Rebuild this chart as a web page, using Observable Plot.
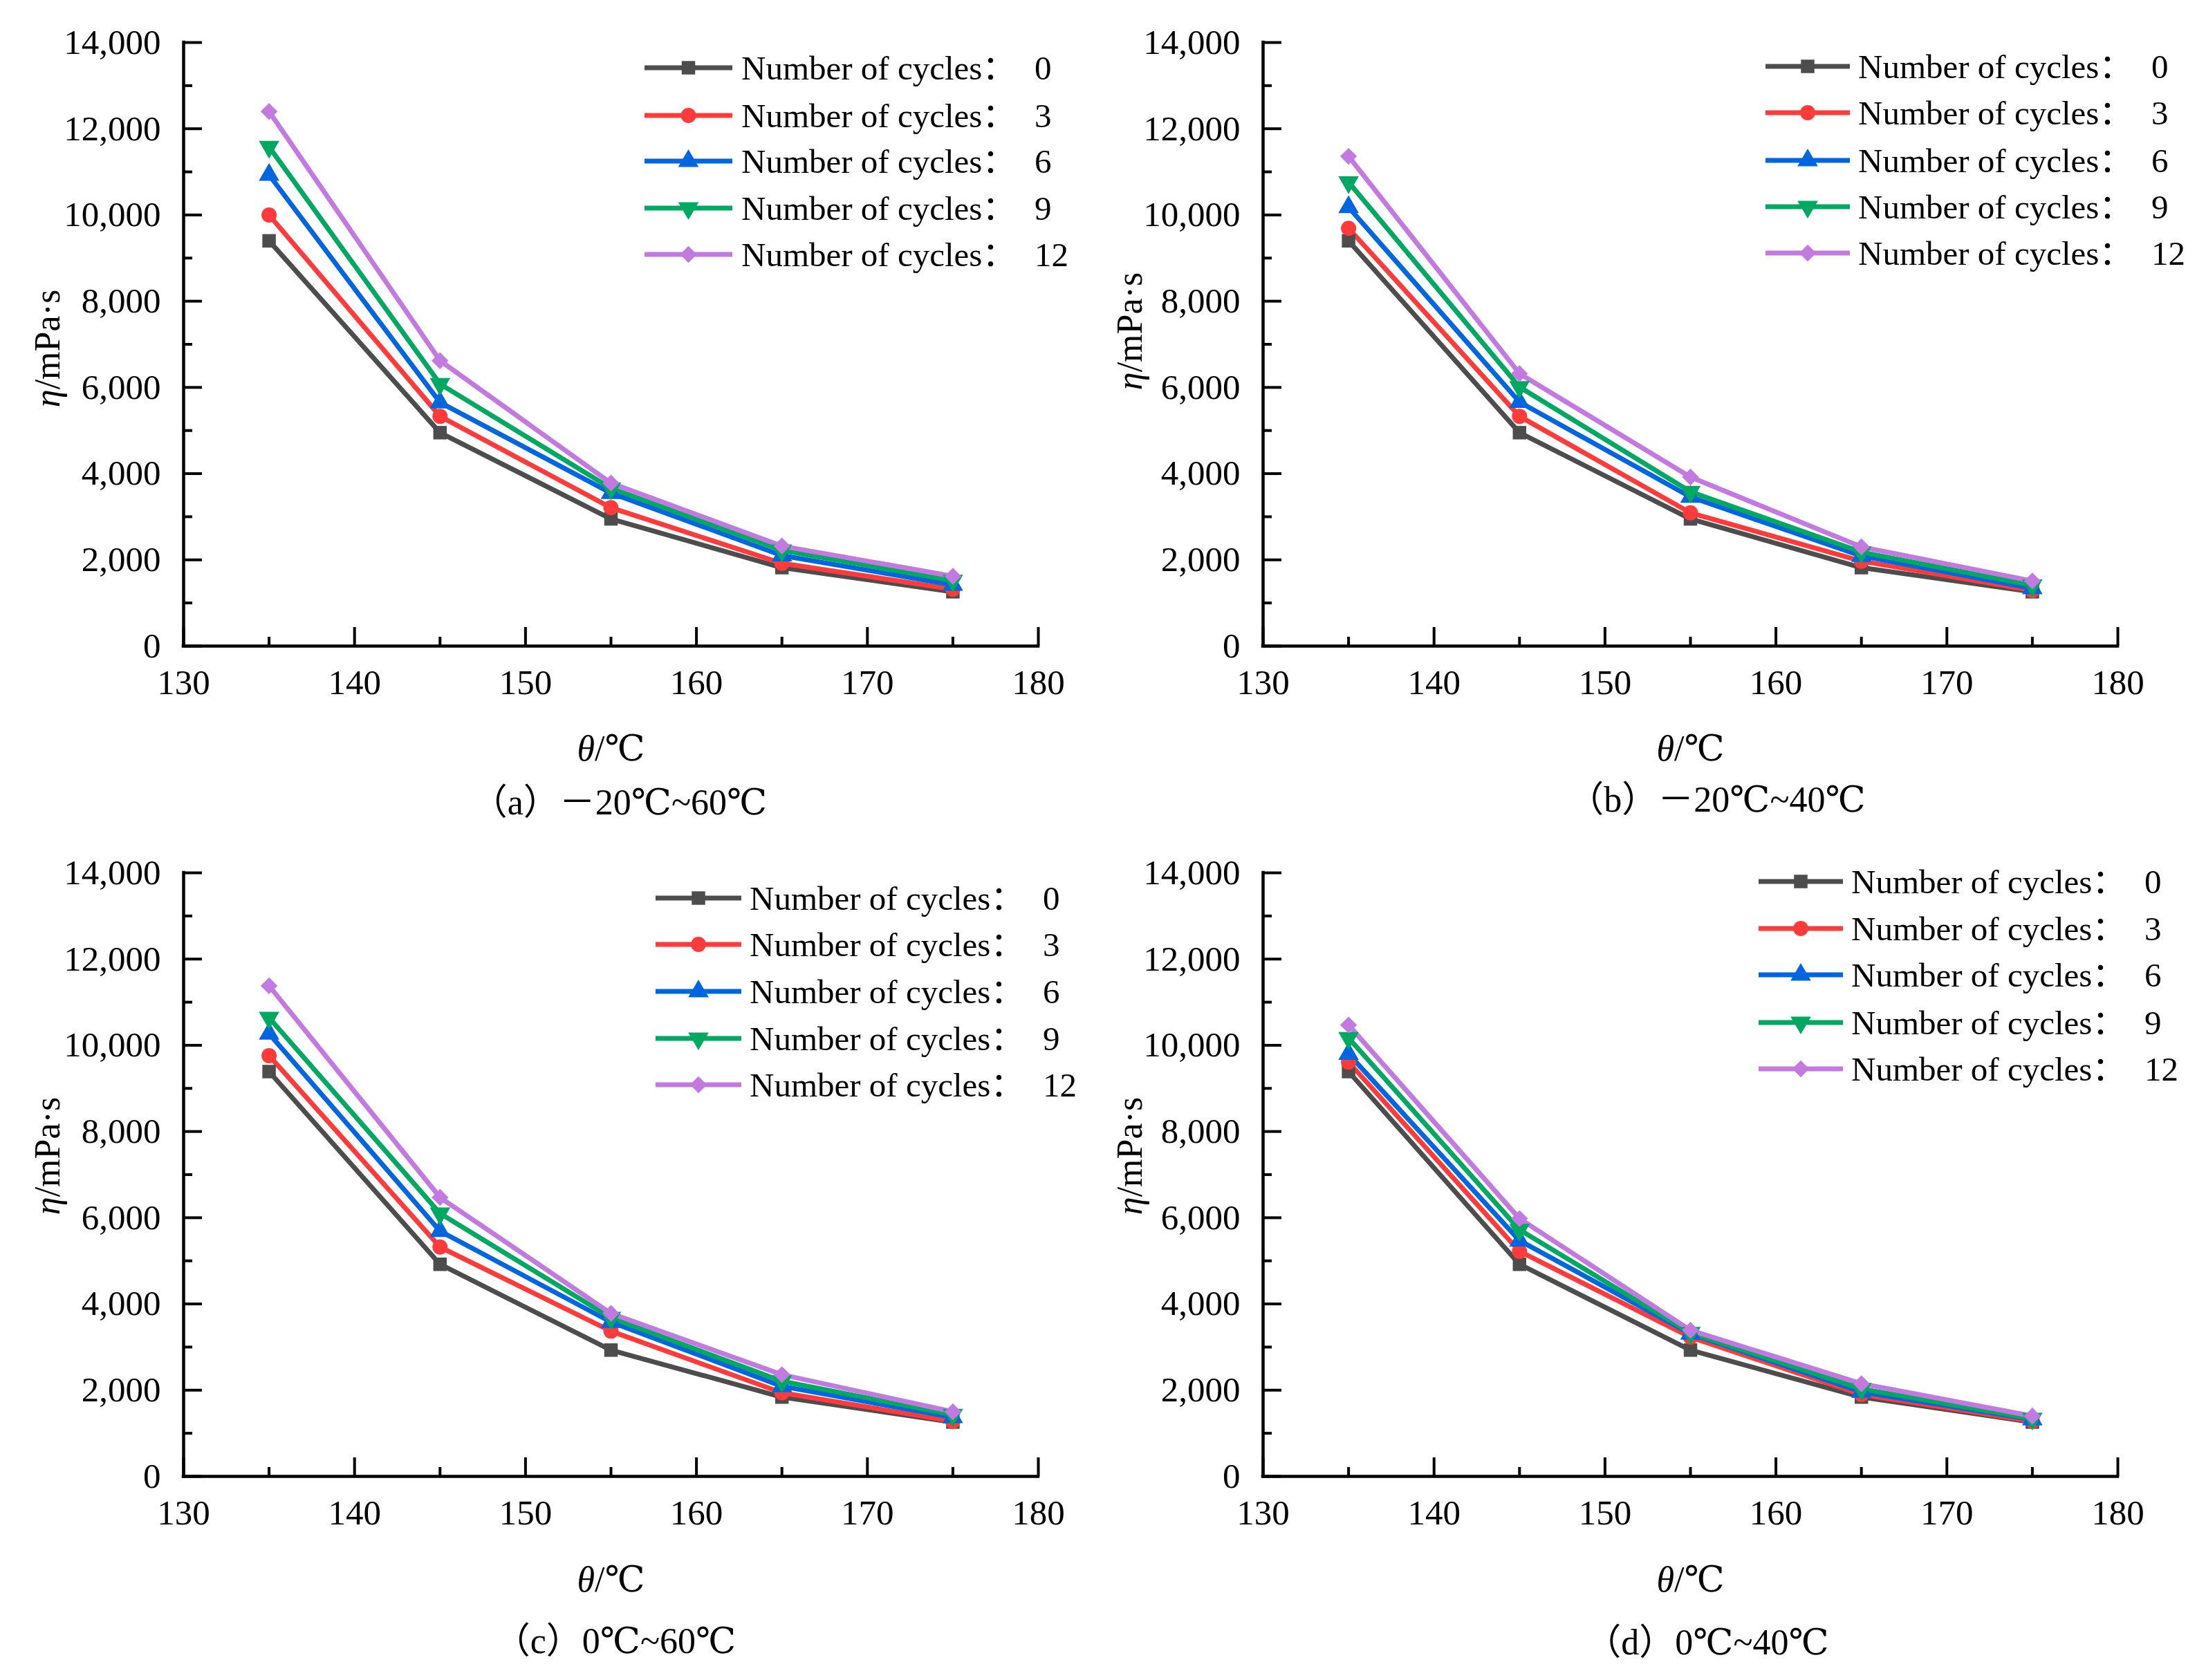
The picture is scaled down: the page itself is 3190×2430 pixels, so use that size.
<!DOCTYPE html>
<html><head><meta charset="utf-8">
<script src="https://cdn.jsdelivr.net/npm/d3@7"></script>
<script src="https://cdn.jsdelivr.net/npm/@observablehq/plot@0.6"></script>
<style>
html,body{margin:0;padding:0;background:#fff;}
#root{position:relative;width:3190px;height:2430px;overflow:hidden;background:#fff;}
.panel{position:absolute;}
.panel svg{overflow:visible;display:block;}
</style></head><body><div id="root"></div>
<script>
// ---- data ----
const temps = [135, 145, 155, 165, 175];
const cycles = [0, 3, 6, 9, 12];
const xMajor = [130, 140, 150, 160, 170, 180];
const xMinor = [135, 145, 155, 165, 175];
const yMajor = [0, 2000, 4000, 6000, 8000, 10000, 12000, 14000];
const yMinor = [1000, 3000, 5000, 7000, 9000, 11000, 13000];

// panel (a) −20℃~60℃
const a0  = [9400, 4950, 2950, 1820, 1260];
const a3  = [10000, 5330, 3210, 1920, 1320];
const a6  = [10930, 5650, 3550, 2100, 1420];
const a9  = [11580, 6080, 3660, 2220, 1520];
const a12 = [12400, 6620, 3780, 2320, 1620];
// panel (b) −20℃~40℃
const b0  = [9400, 4950, 2950, 1820, 1260];
const b3  = [9690, 5330, 3090, 1970, 1290];
const b6  = [10180, 5660, 3460, 2090, 1340];
const b9  = [10760, 6010, 3580, 2180, 1410];
const b12 = [11360, 6320, 3920, 2300, 1510];
// panel (c) 0℃~60℃
const c0  = [9390, 4920, 2930, 1840, 1260];
const c3  = [9760, 5320, 3370, 1940, 1280];
const c6  = [10270, 5690, 3580, 2090, 1370];
const c9  = [10640, 6100, 3680, 2210, 1430];
const c12 = [11380, 6470, 3780, 2360, 1500];
// panel (d) 0℃~40℃
const d0  = [9390, 4920, 2930, 1840, 1260];
const d3_ = [9610, 5220, 3230, 1900, 1280];
const d6  = [9800, 5470, 3310, 1960, 1320];
const d9  = [10170, 5720, 3330, 2030, 1340];
const d12 = [10470, 5980, 3390, 2150, 1400];

const captions = ["（a）－20℃~60℃", "（b）－20℃~40℃", "（c）0℃~60℃", "（d）0℃~40℃"];
const legendPrefix = "Number of cycles：";
const xLabel = "θ/℃";
const yLabel = "η/mPa·s";

// ---- styles ----
const colors = ["#4d4d4d", "#ff3b3b", "#0066e0", "#00a862", "#c27ae0"];
const triangleDown = {
  draw(context, size) {
    const y = -Math.sqrt(size / (Math.sqrt(3) * 3));
    const s3 = Math.sqrt(3);
    context.moveTo(0, -y * 2);
    context.lineTo(-s3 * y, y);
    context.lineTo(s3 * y, y);
    context.closePath();
  }
};
const symbols = [d3.symbolSquare, d3.symbolCircle, d3.symbolTriangle, triangleDown, d3.symbolDiamond2];
const SERIF = "'Liberation Serif','Times New Roman','DejaVu Serif','Noto Sans CJK SC',serif";

const FL = 265, FT = 61, FW = 1236, FH = 873;
// yl: desired centre of the rotated y title, in panel pixel coordinates
const panels = [
  {series: [a0, a3, a6, a9, a12], caption: captions[0], left: 0, top: 0, width: 1561, height: 1201,
   leg: {l0: 667, l1: 794, tx: 807, rows: [37, 106, 172, 240, 307]}, yl: {x: 68, y: 504}, cap: {dx: 630 - FW/2, dy: 243}, xl: {dy: 165}},
  {series: [b0, b3, b6, b9, b12], caption: captions[1], left: 1561, top: 0, width: 1629, height: 1201,
   leg: {l0: 727, l1: 849, tx: 861, rows: [35, 102, 171, 238, 305]}, yl: {x: 72, y: 479}, cap: {dx: 656 - FW/2, dy: 239}, xl: {dy: 165}},
  {series: [c0, c3, c6, c9, c12], caption: captions[2], left: 0, top: 1201, width: 1561, height: 1229,
   leg: {l0: 683, l1: 807, tx: 819, rows: [37, 104, 172, 240, 307]}, yl: {x: 68, y: 471}, cap: {dx: 624 - FW/2, dy: 255}, xl: {dy: 166}},
  {series: [d0, d3_, d6, d9, d12], caption: captions[3], left: 1561, top: 1201, width: 1629, height: 1229,
   leg: {l0: 717, l1: 839, tx: 851, rows: [13, 81, 148, 217, 284]}, yl: {x: 72, y: 471}, cap: {dx: 642 - FW/2, dy: 257}, xl: {dy: 166}}
];

const root = document.getElementById("root");
const R = 11;
const LW = 7;

for (const p of panels) {
  const rows = [];
  p.series.forEach((vals, i) => vals.forEach((v, j) => rows.push({cycle: cycles[i], temp: temps[j], value: v})));
  const axisCommon = {label: null, stroke: "#000", strokeWidth: 4};
  const svg = Plot.plot({
    width: p.width, height: p.height,
    marginLeft: FL, marginTop: FT,
    marginRight: p.width - FL - FW, marginBottom: p.height - FT - FH,
    style: {fontFamily: SERIF, fontSize: "51px", color: "#000", background: "transparent", overflow: "visible"},
    x: {domain: [130, 180]},
    y: {domain: [0, 14000]},
    color: {type: "ordinal", domain: cycles, range: colors},
    symbol: {domain: cycles, range: symbols},
    marks: [
      Plot.axisX(xMajor, {...axisCommon, tickSize: 0, tickPadding: 33, fill: "#000", fontSize: 51, fontFamily: SERIF}),
      Plot.axisX(xMajor, {...axisCommon, tickSize: -27, fill: "none"}),
      Plot.axisX(xMinor, {...axisCommon, tickSize: -13, fill: "none"}),
      Plot.axisY(yMajor, {...axisCommon, tickSize: 0, tickPadding: 33, fill: "#000", tickFormat: d3.format(","), fontSize: 51, fontFamily: SERIF}),
      Plot.axisY(yMajor, {...axisCommon, tickSize: -27, fill: "none"}),
      Plot.axisY(yMinor, {...axisCommon, tickSize: -13, fill: "none"}),
      Plot.ruleX([130], {y1: 0, y2: 14000, stroke: "#000", strokeWidth: 4.5, strokeLinecap: "square"}),
      Plot.ruleY([0], {x1: 130, x2: 180, stroke: "#000", strokeWidth: 4.5, strokeLinecap: "square"}),
      Plot.line(rows, {x: "temp", y: "value", z: "cycle", stroke: "cycle", strokeWidth: LW, strokeLinejoin: "round"}),
      Plot.dot(rows, {x: "temp", y: "value", fill: "cycle", symbol: "cycle", r: R, stroke: "none"}),
      Plot.text([xLabel], {text: d => d, frameAnchor: "bottom", dy: p.xl.dy, fontSize: 52, fontFamily: SERIF, fill: "#000"}),
      Plot.text([p.caption], {text: d => d, frameAnchor: "bottom", dx: p.cap.dx, dy: p.cap.dy, fontSize: 52, fontFamily: SERIF, fill: "#000"})
    ]
  });

  // italic θ in x label
  d3.select(svg).selectAll("text").each(function() {
    const t = this.textContent;
    if (t === xLabel) {
      const sel = d3.select(this);
      sel.text(null);
      sel.append("tspan").attr("font-style", "italic").text(t[0]);
      sel.append("tspan").text(t.slice(1));
    }
  });

  // y-axis title (rotated, italic η) – placed directly in panel pixel space
  const yt = d3.select(svg).append("text")
    .attr("transform", `translate(${p.yl.x},${p.yl.y}) rotate(-90)`)
    .attr("text-anchor", "middle").attr("dy", "0.34em")
    .attr("font-family", SERIF).attr("font-size", 52).attr("fill", "#000");
  yt.append("tspan").attr("font-style", "italic").text(yLabel[0]);
  yt.append("tspan").text(yLabel.slice(1));

  // legend
  const g = d3.select(svg).append("g").attr("transform", `translate(${FL},${FT})`).attr("text-anchor", "start");
  cycles.forEach((c, i) => {
    const y = p.leg.rows[i];
    g.append("line").attr("x1", p.leg.l0).attr("x2", p.leg.l1).attr("y1", y).attr("y2", y)
      .attr("stroke", colors[i]).attr("stroke-width", LW);
    g.append("path").attr("transform", `translate(${(p.leg.l0 + p.leg.l1) / 2},${y})`)
      .attr("d", d3.symbol().type(symbols[i]).size(Math.PI * R * R)()).attr("fill", colors[i]);
    g.append("text").attr("x", p.leg.tx).attr("y", y).attr("dy", "0.34em").attr("text-anchor", "start")
      .attr("font-family", SERIF).attr("font-size", 49).attr("fill", "#000").text(legendPrefix);
    g.append("text").attr("x", p.leg.tx + 424).attr("y", y).attr("dy", "0.34em").attr("text-anchor", "start")
      .attr("font-family", SERIF).attr("font-size", 49).attr("fill", "#000").text(String(c));
  });

  const div = document.createElement("div");
  div.className = "panel";
  div.style.left = p.left + "px";
  div.style.top = p.top + "px";
  div.appendChild(svg);
  root.appendChild(div);

  // measure the rendered y title and nudge it so its centre sits exactly at p.yl
  const sr = svg.getBoundingClientRect();
  const tr = yt.node().getBoundingClientRect();
  const cx = tr.left + tr.width / 2 - sr.left;
  const cy = tr.top + tr.height / 2 - sr.top;
  const ddx = p.yl.x - cx, ddy = p.yl.y - cy;
  yt.attr("transform", `translate(${p.yl.x + ddx},${p.yl.y + ddy}) rotate(-90)`);
}
</script></body></html>
